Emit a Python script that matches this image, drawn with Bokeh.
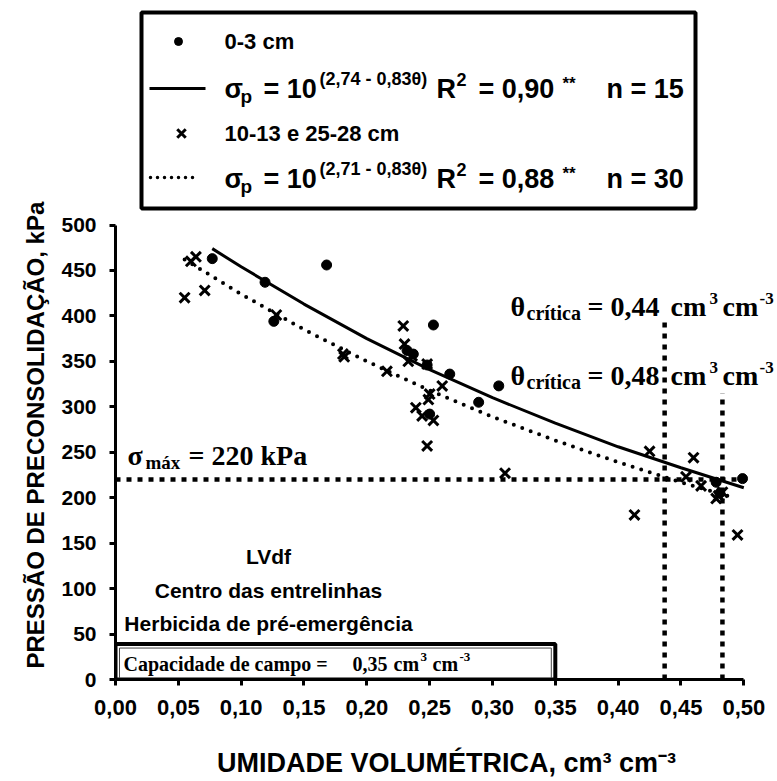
import math
from bokeh.plotting import figure
from bokeh.models import Range1d, FixedTicker, Label, Title
from bokeh.embed import file_html
from bokeh.resources import INLINE

# ---------------- data ----------------
# 0-3 cm samples (dots)
dots_x = [0.077, 0.119, 0.126, 0.168, 0.253, 0.237, 0.266, 0.305, 0.289, 0.250,
          0.248, 0.478, 0.499, 0.232, 0.481]
dots_y = [463, 437, 394, 456, 390, 358, 336, 323, 305, 292,
          346, 217, 221, 362, 205]
# 10-13 e 25-28 cm samples (crosses)
cross_x = [0.064, 0.060, 0.055, 0.071, 0.128, 0.181, 0.182, 0.216, 0.229, 0.230,
           0.233, 0.248, 0.260, 0.250, 0.249, 0.239, 0.244, 0.253, 0.248, 0.310,
           0.425, 0.460, 0.454, 0.466, 0.480, 0.483, 0.478, 0.413, 0.495, 0.236]
cross_y = [465, 460, 420, 428, 401, 358, 355, 339, 389, 369,
           350, 347, 323, 314, 308, 299, 290, 285, 257, 227,
           251, 244, 223, 213, 202, 206, 199, 181, 159, 356]
# fitted curves
fit1_x = [0.077, 0.10, 0.15, 0.20, 0.25, 0.30, 0.35, 0.40, 0.45, 0.50]
fit1_y = [474, 454, 413, 375, 341, 310, 282, 256, 233, 211]
fit2_x = [0.055, 0.10, 0.15, 0.20, 0.25, 0.30, 0.35, 0.40, 0.45, 0.49]
fit2_y = [462, 424, 385, 350, 318, 289, 263, 239, 217, 201]
# reference lines
sigma_max = 220
theta_crit = [0.437, 0.483]
theta_crit_top = [395, 315]
field_capacity = 0.35
fc_box_top = 39
x_ticks = [0.00, 0.05, 0.10, 0.15, 0.20, 0.25, 0.30, 0.35, 0.40, 0.45, 0.50]
x_tick_labels = ["0,00", "0,05", "0,10", "0,15", "0,20", "0,25", "0,30", "0,35", "0,40", "0,45", "0,50"]
y_ticks = [0, 50, 100, 150, 200, 250, 300, 350, 400, 450, 500]

# ---------------- layout ----------------
W, H = 777, 781
FL = 115          # frame left (px)
FB = 679          # frame bottom (px from top)
SX = 1256.6       # px per unit of theta
SY = 0.909        # px per kPa

p = figure(width=W, height=H, output_backend="svg", toolbar_location=None,
           title=None,
           x_range=Range1d(0, (W - FL) / SX), y_range=Range1d(0, FB / SY),
           min_border_left=FL, min_border_right=0, min_border_top=0,
           min_border_bottom=H - FB)
p.outline_line_color = None
p.xgrid.visible = False
p.ygrid.visible = False
p.background_fill_color = "white"
p.border_fill_color = "white"

def dx(px):
    return (px - FL) / SX

def dy(py):
    return (FB - py) / SY

SANS = "Liberation Sans"
SERIF = "Liberation Serif"

def txt(px, py, s, size, font=SANS, align="left"):
    # py is the wanted baseline; the label is anchored on its middle
    p.add_layout(Label(x=dx(px), y=dy(py - 0.345 * size), text=s, text_font=font,
                       text_font_style="bold", text_font_size=f"{size}px",
                       text_align=align, text_baseline="middle",
                       text_color="black"))

# axes
for ax in (p.xaxis[0], p.yaxis[0]):
    ax.axis_line_width = 3
    ax.axis_line_color = "black"
    ax.major_tick_line_width = 3
    ax.major_tick_out = 6
    ax.major_tick_in = 0
    ax.minor_tick_line_color = None
    ax.major_label_text_font = SANS
    ax.major_label_text_font_style = "bold"
    ax.major_label_text_color = "black"

p.xaxis.ticker = FixedTicker(ticks=x_ticks)
p.xaxis.major_label_overrides = {t: l for t, l in zip(x_ticks, x_tick_labels)}
p.xaxis.bounds = (0, 0.5)
p.xaxis.major_label_standoff = 14
p.xaxis.major_label_text_font_size = "22px"
p.xaxis.axis_label = "UMIDADE VOLUMÉTRICA, cm³ cm⁻³"
p.xaxis.axis_label_text_font = SANS
p.xaxis.axis_label_text_font_style = "bold"
p.xaxis.axis_label_text_font_size = "27px"
p.xaxis.axis_label_text_color = "black"
p.xaxis.axis_label_standoff = 30
p.yaxis.ticker = FixedTicker(ticks=y_ticks)
p.yaxis.bounds = (0, 500)
p.yaxis.major_label_standoff = 13
p.yaxis.major_label_text_font_size = "21px"

# y axis title (anchored at its start so it can sit where the reference has it)
p.add_layout(Title(text="PRESSÃO DE PRECONSOLIDAÇÃO, kPa", text_font=SANS,
                   text_font_size="24px", text_font_style="bold", text_color="black",
                   align="left", offset=11, standoff=20), "left")

# reference lines
p.line([0, 0.5], [sigma_max, sigma_max], line_color="black", line_width=4.5,
       line_dash="5 6")
for tx, tt in zip(theta_crit, theta_crit_top):
    p.line([tx, tx], [0, tt], line_color="black", line_width=4.5, line_dash="5 6")

# field capacity box (thick frame with a thin inner rule)
p.quad(left=[0], right=[field_capacity], bottom=[0], top=[fc_box_top],
       fill_color=None, line_color="black", line_width=4)
p.quad(left=[dx(FL + 4)], right=[dx(FL + field_capacity * SX - 4)], bottom=[0],
       top=[fc_box_top - 4 / SY], fill_color=None, line_color="#444444", line_width=1)

# fitted curves
p.line(fit1_x, fit1_y, line_color="black", line_width=3)
p.line(fit2_x, fit2_y, line_color="black", line_width=4, line_dash="0 9",
       line_cap="round")

# data
p.scatter(dots_x, dots_y, marker="circle", size=10, fill_color="black", line_color="black")
p.scatter(cross_x, cross_y, marker="x", size=14, line_color="black", line_width=3)

# ---------------- legend (drawn by hand) ----------------
p.quad(left=[dx(141)], right=[dx(695)], top=[dy(12)], bottom=[dy(208)],
       fill_color=None, line_color="black", line_width=4)
p.scatter([dx(178)], [dy(41)], marker="circle", size=8, fill_color="black", line_color="black")
p.scatter([dx(181)], [dy(133)], marker="x", size=12, line_color="black", line_width=3)
p.line([dx(149), dx(205)], [dy(88), dy(88)], line_color="black", line_width=3)
p.line([dx(150), dx(197)], [dy(177), dy(177)], line_color="black", line_width=3.5,
       line_dash="0 7", line_cap="round")

txt(224, 49, "0-3 cm", 22)
txt(224, 141, "10-13 e 25-28 cm", 22)
for base, eq, r2, n in [(98, "(2,74 - 0,83θ)", "0,90", "15"),
                        (188, "(2,71 - 0,83θ)", "0,88", "30")]:
    txt(224, base, "σ", 27)
    txt(240, base + 5, "p", 19)
    txt(263, base, "= 10", 27)
    txt(319, base - 13, eq, 18)
    txt(436, base, "R", 27)
    txt(456, base - 13, "2", 18)
    txt(478, base, "= " + r2, 27)
    txt(562, base - 9, "**", 17)
    txt(606, base, "n = " + n, 27)

# ---------------- annotations ----------------
for base, val in [(316, "0,44"), (385, "0,48")]:
    txt(510, base, "θ", 28, SERIF)
    txt(526, base + 3, "crítica", 20, SERIF)
    txt(587, base, "=", 28, SERIF)
    txt(610, base, val, 28, SERIF)
    txt(670, base, "cm", 28, SERIF)
    txt(709, base - 12, "3", 17, SERIF)
    txt(722, base, "cm", 28, SERIF)
    txt(759, base - 12, "-3", 17, SERIF)

txt(127, 465, "σ", 28, SERIF)
txt(145, 469, "máx", 19, SERIF)
txt(188, 465, "= 220 kPa", 28, SERIF)

txt(268, 563, "LVdf", 21, align="center")
txt(268, 597, "Centro das entrelinhas", 21, align="center")
txt(268, 630, "Herbicida de pré-emergência", 21, align="center")

txt(123, 670, "Capacidade de campo =", 20, SERIF)
txt(352, 670, "0,35", 20, SERIF)
txt(393, 670, "cm", 20, SERIF)
txt(420, 661, "3", 13, SERIF)
txt(432, 670, "cm", 20, SERIF)
txt(459, 661, "-3", 13, SERIF)

open("out.html", "w").write(file_html(p, INLINE))
